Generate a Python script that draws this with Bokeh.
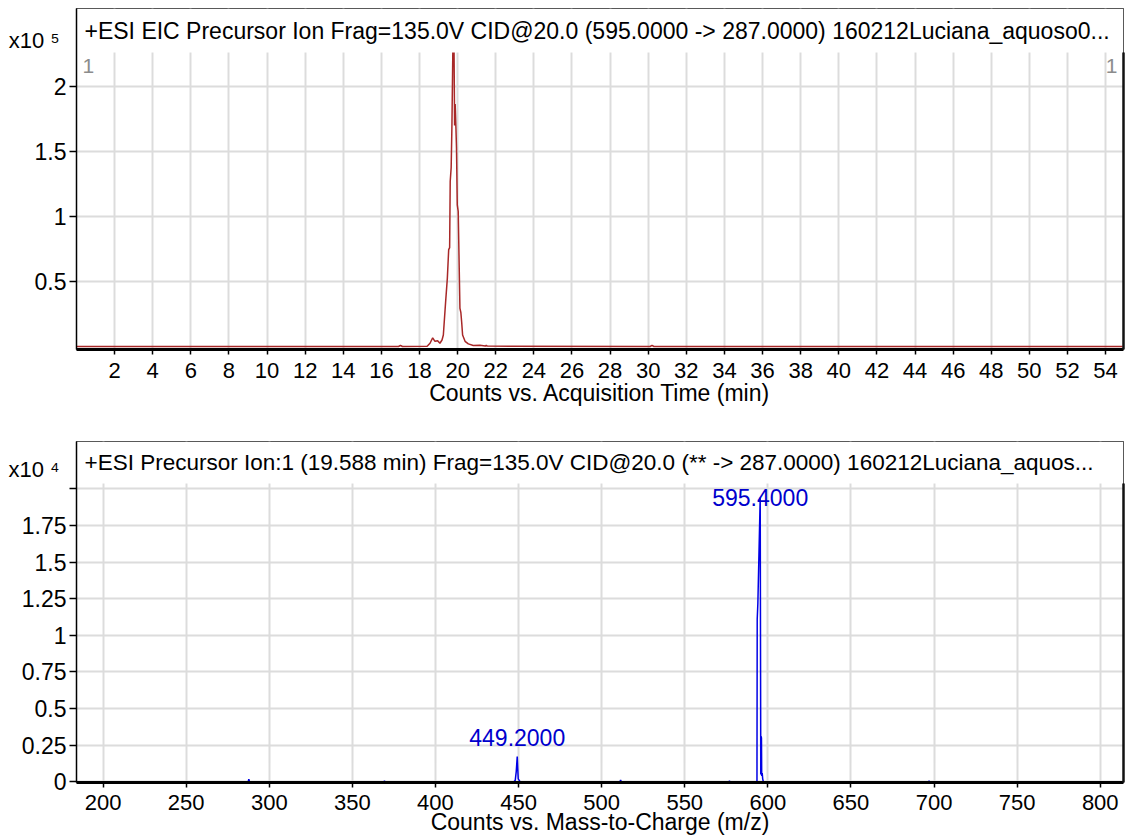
import numpy as np
from bokeh.plotting import figure
from bokeh.layouts import column
from bokeh.models import Label, FixedTicker, Range1d, LinearAxis
from bokeh.embed import file_html
from bokeh.resources import INLINE

FONT = "Liberation Sans"

# ---------------- data: top panel (EIC) ----------------
eic_title = "+ESI EIC Precursor Ion Frag=135.0V CID@20.0 (595.0000 -> 287.0000) 160212Luciana_aquoso0..."
eic_xlabel = "Counts vs. Acquisition Time (min)"
eic_exponent = 5
eic_time = [0.0, 16.9, 17.0, 17.1, 18.4, 18.55, 18.69, 18.81, 18.95, 19.07, 19.18, 19.25,
            19.37, 19.46, 19.53, 19.58, 19.61, 19.66, 19.70, 19.75, 19.81, 19.84, 19.87,
            19.91, 19.94, 19.98, 20.03, 20.12, 20.17, 20.21, 20.26, 20.39, 20.56, 20.82,
            21.17, 21.45, 21.5, 21.55, 30.1, 30.2, 30.3, 54.9]
eic_counts = [0, 0, 900, 0, 200, 2500, 6700, 4000, 4500, 2500, 5000, 8800,
              34500, 52600, 74500, 76000, 127000, 137600, 170000, 230000, 230000, 170000, 186500,
              168000, 153000, 109000, 104000, 29400, 26000, 19000, 8800, 4000, 2000, 800,
              1000, 300, 1000, 300, 0, 900, 0, 0]
eic_x_ticks = list(range(2, 55, 2))
eic_y_ticks = [0.5, 1.0, 1.5, 2.0]
eic_y_tick_labels = ["0.5", "1", "1.5", "2"]
eic_corner_label = "1"

# ---------------- data: bottom panel (spectrum) ----------------
ms_title = "+ESI Precursor Ion:1 (19.588 min) Frag=135.0V CID@20.0 (** -> 287.0000) 160212Luciana_aquos..."
ms_xlabel = "Counts vs. Mass-to-Charge (m/z)"
ms_exponent = 4
ms_mz = [184.0, 287.3, 287.7, 288.1, 369.0, 369.3, 369.6,
         447.2, 448.0, 448.6, 449.2, 449.5, 449.8, 450.4, 451.0,
         511.0, 511.4, 511.8, 576.5, 576.9, 577.3,
         593.45, 593.6, 594.0, 595.4, 595.75, 595.95, 596.15, 596.3, 596.6, 596.9, 597.3,
         696.7, 697.0, 697.3, 814.0]
ms_counts = [0, 0, 180, 0, 0, 60, 0,
             0, 100, 700, 1720, 900, 200, 100, 0,
             0, 130, 0, 0, 50, 0,
             0, 11100, 12200, 19400, 500, 3100, 3000, 400, 600, 200, 0,
             0, 60, 0, 0]
ms_peak_mz = [449.2, 595.4]
ms_peak_labels = ["449.2000", "595.4000"]
ms_x_ticks = list(range(200, 801, 50))
ms_y_ticks = [0.0, 0.25, 0.5, 0.75, 1.0, 1.25, 1.5, 1.75, 2.0]
ms_y_tick_labels = ["0", "0.25", "0.5", "0.75", "1", "1.25", "1.5", "1.75", ""]

SUP = {"4": "\u2074", "5": "\u2075"}


def make_panel(title, title_size, xlabel, exponent, xs, ys, color, x_range, x_ticks, y_ticks,
               y_labels, height, frame_top, data_top, frame_bottom, zero_px, ppu,
               x_label_standoff, x_axis_label_standoff, exp_center_px, exp_standoff):
    scale = 10.0 ** exponent
    y = np.asarray(ys, dtype=float) / scale
    y_start = -(frame_bottom - zero_px) / ppu
    y_data_top = (zero_px - data_top) / ppu
    y_end = (zero_px - frame_top) / ppu

    p = figure(width=1129, height=height, output_backend="svg", toolbar_location=None,
               x_range=Range1d(*x_range), y_range=Range1d(y_start, y_end),
               min_border_left=76, min_border_right=6, min_border_top=frame_top,
               min_border_bottom=height - frame_bottom)
    p.background_fill_color = "white"
    p.border_fill_color = "white"
    p.outline_line_color = "#222222"
    p.outline_line_width = 1

    p.line(xs, y, line_color=color, line_width=1.5)
    # title row (white band above data area)
    p.quad(left=[x_range[0]], right=[x_range[1]], bottom=[y_data_top], top=[y_end],
           fill_color="white", line_color=None)

    p.xaxis.ticker = FixedTicker(ticks=x_ticks)
    p.yaxis.ticker = FixedTicker(ticks=y_ticks)
    p.yaxis.major_label_overrides = {float(t): l for t, l in zip(y_ticks, y_labels)}
    for ax in (p.xaxis, p.yaxis):
        ax.minor_tick_line_color = None
        ax.major_tick_in = 0
        ax.major_tick_line_color = "black"
        ax.major_tick_line_width = 1.5
        ax.major_label_text_font = FONT
        ax.major_label_text_color = "black"
        ax.axis_line_color = "black"
    p.xaxis.major_label_text_font_size = "22px"
    p.yaxis.major_label_text_font_size = "23px"
    p.yaxis.major_tick_out = 7
    p.yaxis.major_label_standoff = 3
    p.yaxis.axis_line_width = 1.5
    p.xaxis.major_tick_out = 5
    p.xaxis.major_label_standoff = x_label_standoff
    p.xaxis.axis_line_width = 3
    p.xaxis.axis_label = xlabel
    p.xaxis.axis_label_text_font = FONT
    p.xaxis.axis_label_text_font_size = "23px"
    p.xaxis.axis_label_text_font_style = "normal"
    p.xaxis.axis_label_text_color = "black"
    p.xaxis.axis_label_standoff = x_axis_label_standoff

    # darker right border along the data area only
    right = LinearAxis(ticker=FixedTicker(ticks=[]), bounds=(y_start, y_data_top),
                       major_tick_line_color=None, minor_tick_line_color=None,
                       axis_line_color="#111111", axis_line_width=2.5,
                       major_label_text_font_size="1px")
    p.add_layout(right, "right")

    p.xgrid.grid_line_color = "#DCDCDC"
    p.ygrid.grid_line_color = "#DCDCDC"
    p.xgrid.grid_line_width = 2
    p.ygrid.grid_line_width = 2

    # title text inside the frame
    p.add_layout(Label(x=x_range[0], y=y_end, x_offset=8, y_offset=-(data_top - frame_top) / 2,
                       text=title, text_font=FONT, text_font_size=title_size,
                       text_baseline="middle", text_align="left", text_color="black"))

    # exponent ("x10^n") as an outer left axis with a single label
    y_exp = (zero_px - exp_center_px) / ppu
    exp_axis = LinearAxis(ticker=FixedTicker(ticks=[y_exp]),
                          major_label_overrides={float(y_exp): "x10 " + SUP[str(exponent)]},
                          major_tick_out=0, major_tick_in=0, major_tick_line_color=None,
                          minor_tick_line_color=None, axis_line_color=None,
                          major_label_standoff=exp_standoff,
                          major_label_text_font=FONT, major_label_text_font_size="22px",
                          major_label_text_color="black")
    p.add_layout(exp_axis, "left")
    return p, y_data_top, ppu


top, top_ytop, top_ppu = make_panel(
    eic_title, "23px", eic_xlabel, eic_exponent, eic_time, eic_counts, "#A82828",
    (0.0, 54.94), eic_x_ticks, eic_y_ticks, eic_y_tick_labels,
    height=420, frame_top=8, data_top=52, frame_bottom=349, zero_px=346, ppu=130,
    x_label_standoff=8, x_axis_label_standoff=-1, exp_center_px=40, exp_standoff=-28)
for xr, align, off in ((top.x_range.start, "left", 6), (top.x_range.end, "right", -6)):
    top.add_layout(Label(x=xr, y=top_ytop, x_offset=off, y_offset=-13, text=eic_corner_label,
                         text_font=FONT, text_font_size="21px", text_color="#8C8C8C",
                         text_align=align, text_baseline="middle"))

bot, bot_ytop, bot_ppu = make_panel(
    ms_title, "22.5px", ms_xlabel, ms_exponent, ms_mz, ms_counts, "#0000E6",
    (184.0, 814.0), ms_x_ticks, ms_y_ticks, ms_y_tick_labels,
    height=418, frame_top=21, data_top=63, frame_bottom=362, zero_px=361.3, ppu=146.5,
    x_label_standoff=7, x_axis_label_standoff=-4, exp_center_px=49, exp_standoff=-41)

mz_arr = np.asarray(ms_mz)
cnt_arr = np.asarray(ms_counts, dtype=float) / 10.0 ** ms_exponent
for mz, lab in zip(ms_peak_mz, ms_peak_labels):
    near = np.abs(mz_arr - mz) < 1.0
    apex = cnt_arr[near].max()
    ly = min(apex + 11 / bot_ppu, bot_ytop - 22 / bot_ppu)
    bot.add_layout(Label(x=mz, y=ly, text=lab, text_font=FONT, text_font_size="23px",
                         text_color="#0000CD", text_align="center", text_baseline="bottom"))

layout = column(top, bot, spacing=0)
open("out.html", "w").write(file_html(layout, INLINE))
